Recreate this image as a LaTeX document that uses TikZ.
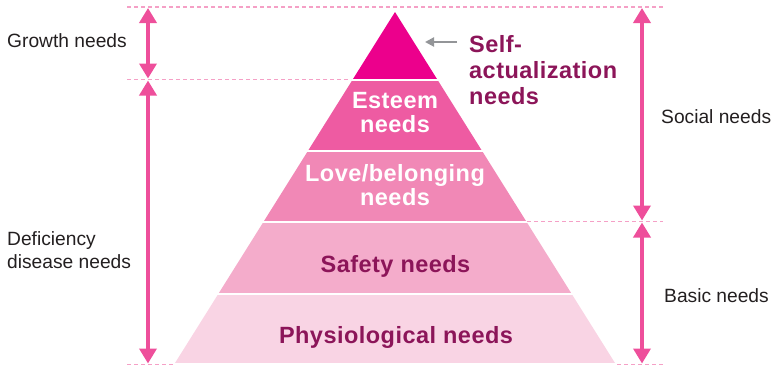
\documentclass[tikz,border=0pt]{standalone}
\usepackage{fontspec}
\setmainfont{Liberation Sans}
\newfontfamily\levelfont{Liberation Sans}[LetterSpace=2.0]
\usetikzlibrary{arrows.meta}
\definecolor{lvlA}{HTML}{EC008C}
\definecolor{lvlB}{HTML}{EE5BA2}
\definecolor{lvlC}{HTML}{F188B6}
\definecolor{lvlD}{HTML}{F4ACCB}
\definecolor{lvlE}{HTML}{F9D4E4}
\definecolor{darkmag}{HTML}{8C1559}
\definecolor{arrowpink}{HTML}{EE4F9B}
\definecolor{guidepink}{HTML}{F5A0C6}
\definecolor{labelgray}{HTML}{231F20}
\definecolor{pointergray}{HTML}{939598}
\begin{document}
\begin{tikzpicture}[x=1pt, y=-1pt, line join=round,
    need/.style={draw=arrowpink, line width=3.6pt, {Triangle[width=17pt,length=15pt]}-{Triangle[width=17pt,length=15pt]}, shorten <=1pt, shorten >=1pt},
    pointer/.style={draw=pointergray, line width=2pt, -{Triangle[width=9pt,length=9pt]}},
    guide/.style={draw=guidepink, line width=1.2pt, dash pattern=on 4pt off 3pt},
    side/.style={text=labelgray, inner sep=0pt, align=left, font=\fontsize{19.2}{23}\selectfont},
    level/.style={inner sep=0pt, align=center, font=\levelfont\bfseries\fontsize{23.5}{24}\selectfont}]
	\useasboundingbox (0,0) rectangle (776,368);
	% pyramid
	\begin{scope}
		\clip (395,12) -- (175,363) -- (615,363) -- cycle;
		\foreach \ytop/\ybot/\col in {12/78.5/lvlA, 81/150/lvlB, 152/221/lvlC, 223/292.5/lvlD, 295/363/lvlE}
			\fill[\col] (170,\ytop) rectangle (620,\ybot);
	\end{scope}
	% guide lines
	\draw[guide] (127,7) -- (663,7);
	\draw[guide] (127,79.5) -- (351,79.5);
	\draw[guide] (527,221.5) -- (663,221.5);
	\draw[guide] (127,364.5) -- (174,364.5);
	\draw[guide] (617,364.5) -- (663,364.5);
	% arrow ends
	\coordinate (lt) at (148,7);
	\coordinate (lm) at (148,79.5);
	\coordinate (lb) at (148,364.5);
	\coordinate (rt) at (642,7);
	\coordinate (rm) at (642,221.5);
	\coordinate (rb) at (642,364.5);
	\draw[need] (lt) -- (lm);
	\draw[need] (lm) -- (lb);
	\draw[need] (rt) -- (rm);
	\draw[need] (rm) -- (rb);
	% levels
	\node[level, text=white] (esteem) at (395,112.6) {Esteem\\needs};
	\node[level, text=white] (love) at (395,185) {Love/belonging\\needs};
	\node[level, text=darkmag, anchor=base] (safety) at (395.5,272) {Safety needs};
	\node[level, text=darkmag, anchor=base] (physio) at (396,343) {Physiological needs};
	\node[level, text=darkmag, align=left, anchor=west, font=\levelfont\bfseries\fontsize{23.5}{26}\selectfont] (selfact) at (469,70.5) {Self-\\actualization\\needs};
	\coordinate (ptrS) at (457,42);
	\coordinate (ptrE) at (425,42);
	\draw[pointer] (ptrS) -- (ptrE);
	% side labels
	\node[side, anchor=base west] (growth) at (7,47) {Growth needs};
	\node[side, anchor=west] (deficiency) at (7,249.7) {Deficiency\\disease needs};
	\node[side, anchor=base west] (social) at (661,123) {Social needs};
	\node[side, anchor=base west] (basic) at (664,302) {Basic needs};
\end{tikzpicture}
\end{document}
